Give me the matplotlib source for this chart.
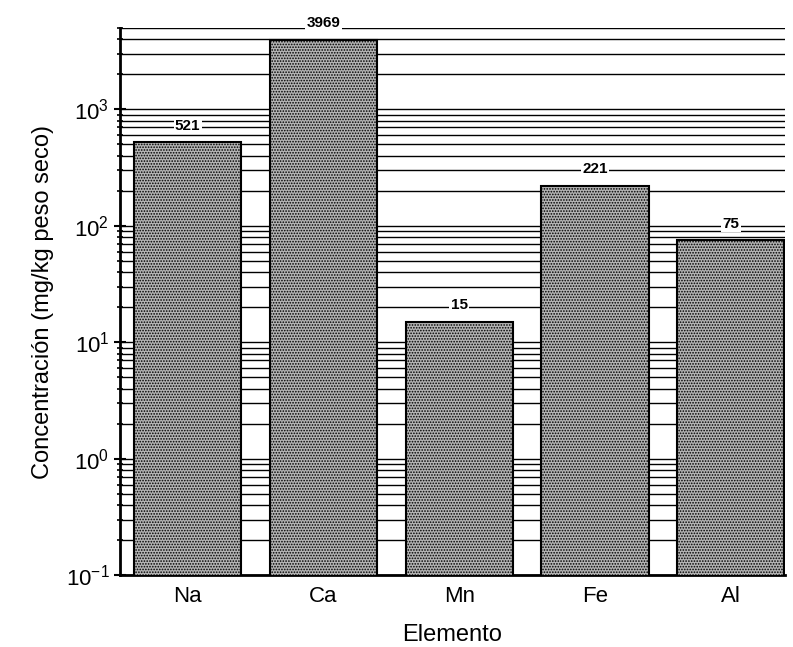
import numpy as np
import matplotlib
matplotlib.use('Agg')
from matplotlib import pyplot as plt
from matplotlib.ticker import LogLocator

elements = ['Na', 'Ca', 'Mn', 'Fe', 'Al']
values = [521, 3969, 15, 221, 75]

plt.rcParams['font.family'] = ['Liberation Sans', 'DejaVu Sans']
plt.rcParams['hatch.color'] = '#444444'
plt.rcParams['hatch.linewidth'] = 0.8

fig = plt.figure(figsize=(7.93, 6.47), dpi=100)
ax = fig.add_axes([0.151, 0.111, 0.839, 0.846])

x = np.arange(len(elements))
ax.set_yscale('log')
ax.set_ylim(0.1, 5000)
ax.set_xlim(-0.5, 4.4)

ax.yaxis.set_major_locator(LogLocator(base=10, numticks=10))
ax.yaxis.set_minor_locator(LogLocator(base=10, subs=np.arange(2, 10), numticks=10))
ax.grid(True, which='both', axis='y', color='black', linewidth=1.0)
ax.set_axisbelow(True)

bars = ax.bar(x, values, width=0.79, color='#b4b4b4', edgecolor='black',
              linewidth=1.5, hatch='......', zorder=3)
for xi, v in zip(x, values):
    ax.text(xi, v * 1.2, str(v), ha='center', va='bottom', fontsize=11,
            fontweight='bold', zorder=4,
            bbox=dict(facecolor='white', edgecolor='none', pad=1))

ax.set_xticks(x)
ax.set_xticklabels(elements, fontsize=16)
ax.tick_params(axis='x', length=0, pad=8)
ax.tick_params(axis='y', which='major', length=8, width=1.5, labelsize=16, direction='inout')
ax.tick_params(axis='y', which='minor', length=5, width=1.2, direction='inout')

for s in ['top', 'right']:
    ax.spines[s].set_visible(False)
ax.spines['left'].set_linewidth(2)
ax.spines['bottom'].set_linewidth(2)

ax.set_ylabel('Concentración (mg/kg peso seco)', fontsize=17, labelpad=8)
ax.set_xlabel('Elemento', fontsize=17, labelpad=12)

plt.savefig('out.png', dpi=100)
